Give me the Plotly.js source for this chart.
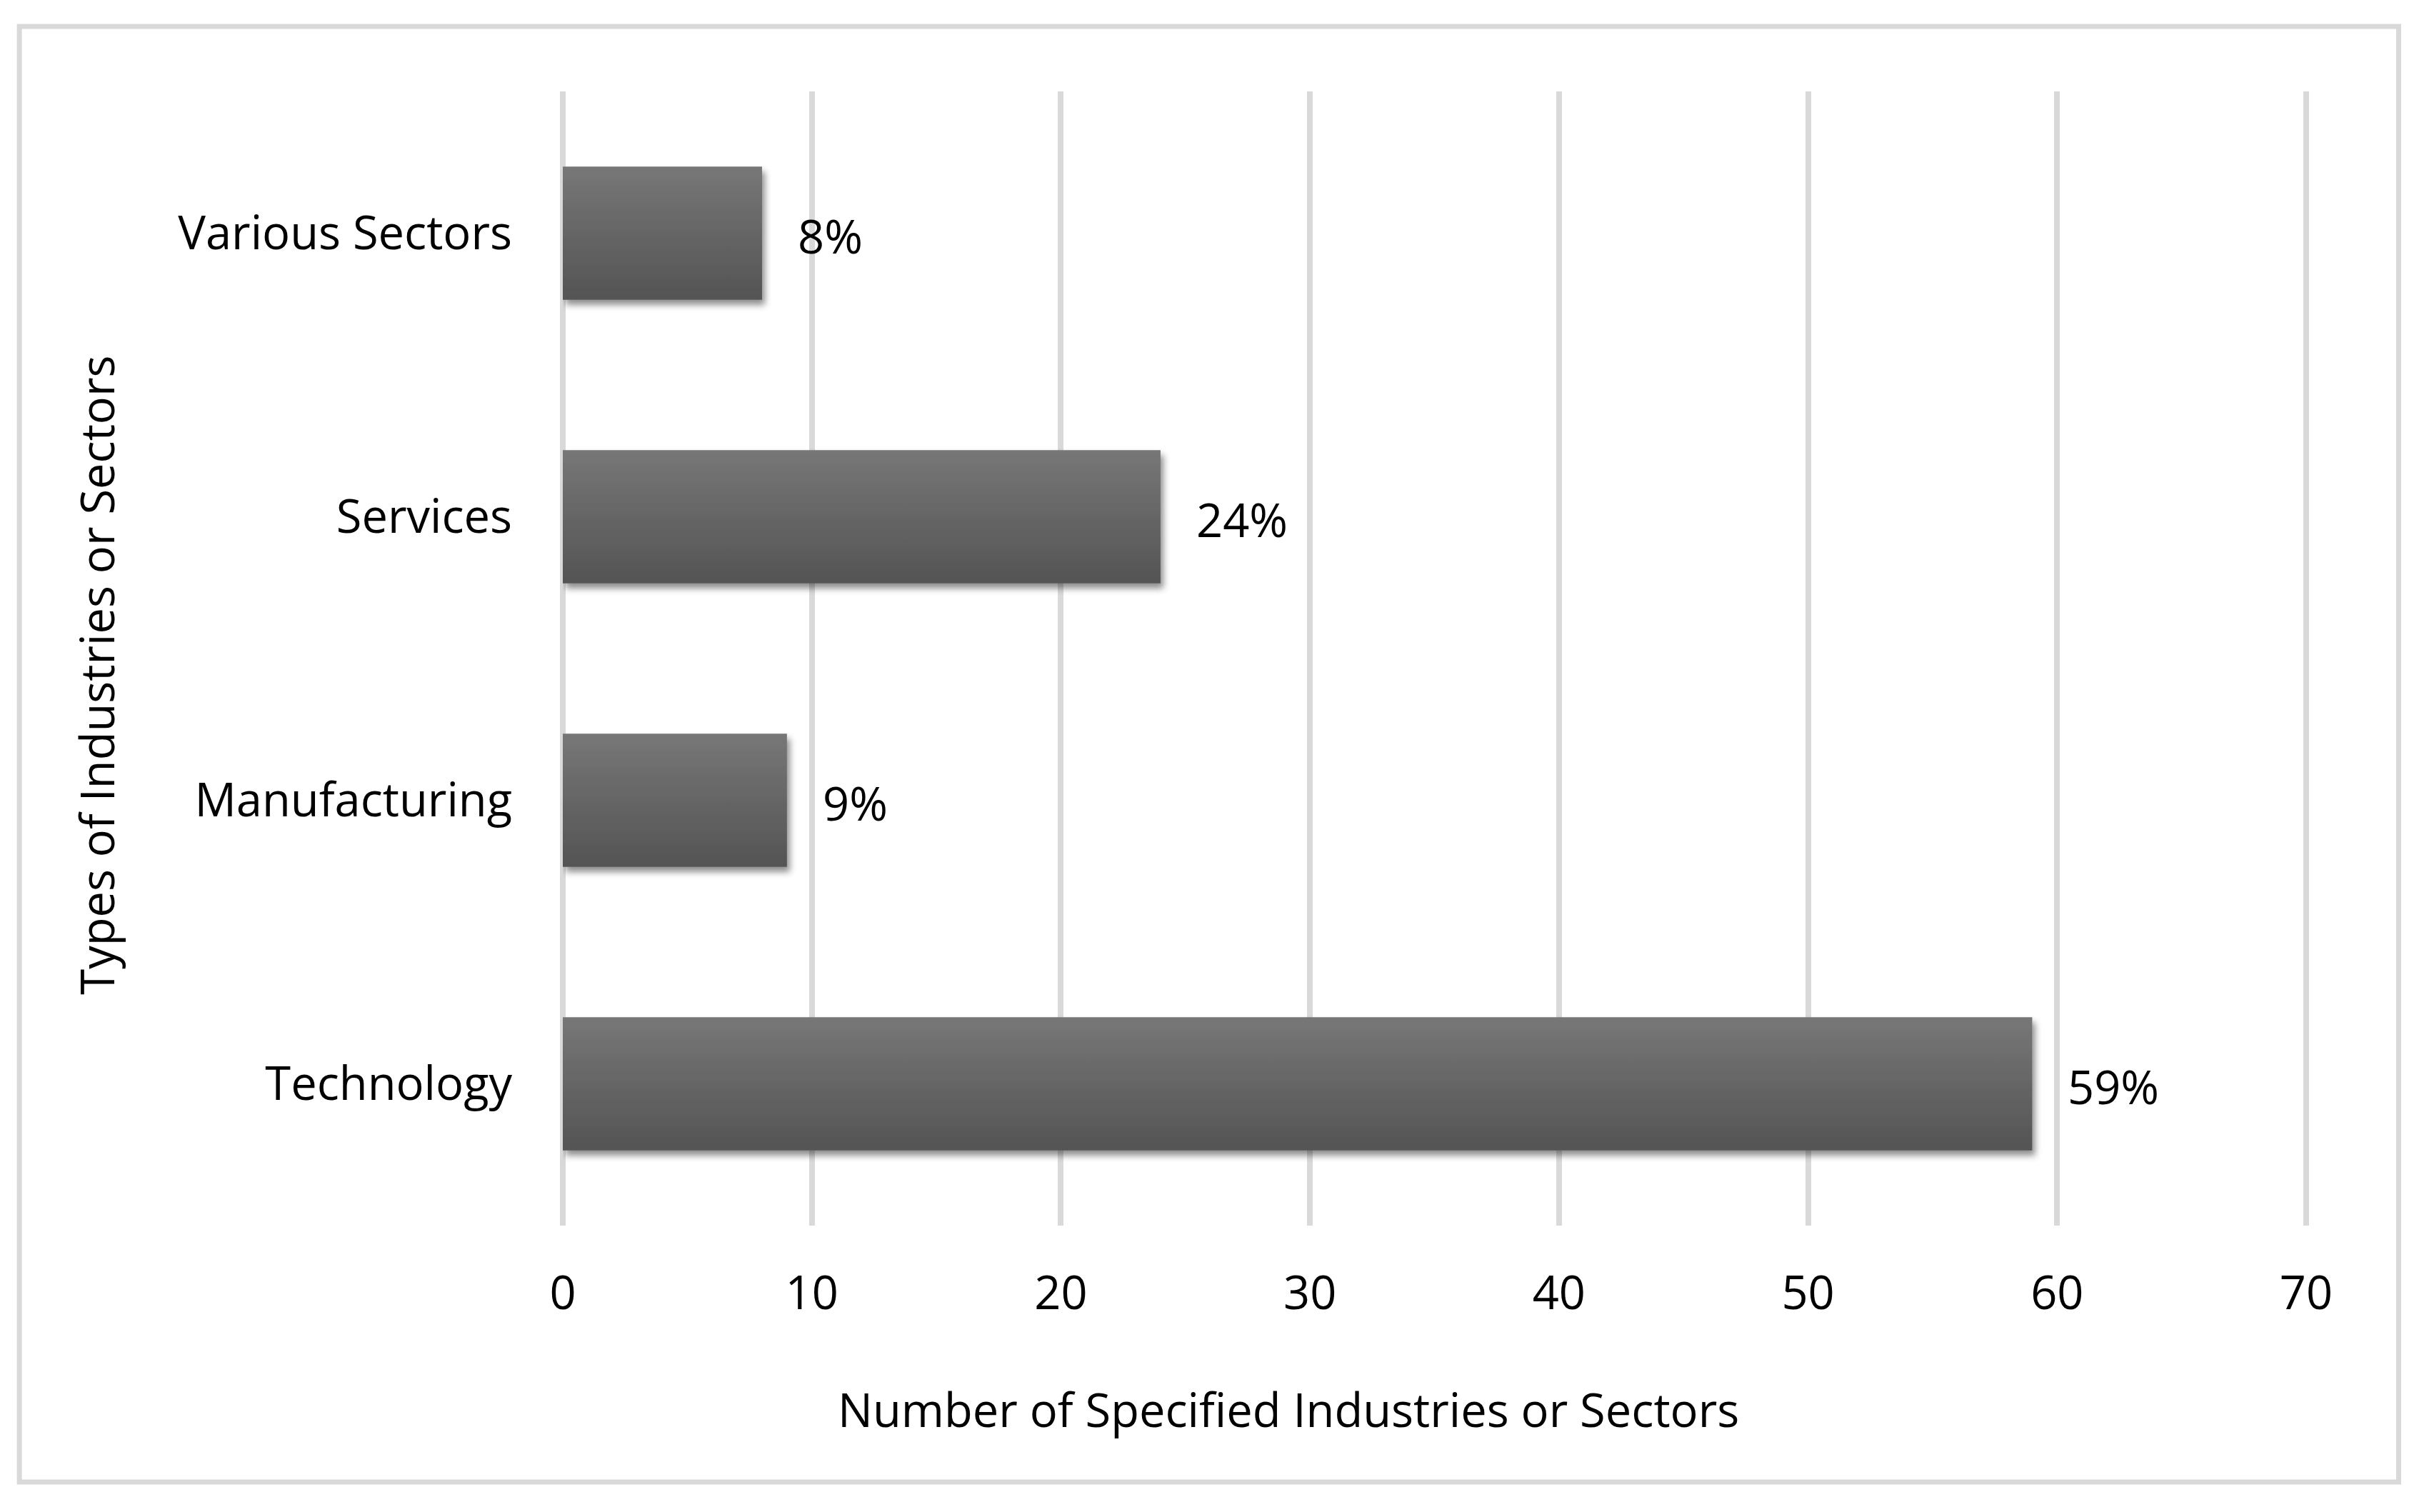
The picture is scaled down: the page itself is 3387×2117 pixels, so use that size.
<!DOCTYPE html>
<html>
<head>
<meta charset="utf-8">
<script src="https://cdn.plot.ly/plotly-3.0.1.min.js"></script>
<style>
html,body{margin:0;padding:0;background:#fff;}
#chart{width:3387px;height:2117px;}
</style>
</head>
<body>
<div id="chart"></div>
<script>
// ---- data ----
var categories = ["Technology", "Manufacturing", "Services", "Various Sectors"];
var counts = [59, 9, 24, 8];
var percentLabels = ["59%", "9%", "24%", "8%"];
var xTickValues = [0, 10, 20, 30, 40, 50, 60, 70];
var xAxisTitle = "Number of Specified Industries or Sectors";
var yAxisTitle = "Types of Industries or Sectors";

// ---- layout geometry (pixels) ----
var W = 3387, H = 2117;
var XMAX = 70, XPAD = 0.2;                 // small pad so the 70 gridline is drawn
var L = 787.5, R70 = 3229;                 // pixel of 0 and of 70
var R = L + (R70 - L) * (XMAX + XPAD) / XMAX;
var T = 128, B = 1716;
var pw = R - L, ph = B - T;
function px2x(p){ return (p - L) / pw; }
function py2y(p){ return (B - p) / ph; }

var FONT = "Open Sans, sans-serif";
var FS = 65;

var trace = {
  type: "bar",
  orientation: "h",
  x: counts,
  y: categories,
  width: 0.47,
  marker: {color: "#666666", line: {width: 0}},
  hoverinfo: "none"
};

var annotations = categories.map(function(c, i){
  return {
    x: counts[i], y: c, xref: "x", yref: "y",
    text: percentLabels[i], showarrow: false,
    xanchor: "left", yanchor: "middle", xshift: 48, yshift: -3,
    font: {family: FONT, size: FS, color: "#000000"}
  };
});
annotations.push({
  x: px2x(1804), y: py2y(1973), xref: "paper", yref: "paper",
  text: xAxisTitle, showarrow: false, xanchor: "center", yanchor: "middle",
  font: {family: FONT, size: FS, color: "#000000"}
});
annotations.push({
  x: px2x(134), y: py2y(945), xref: "paper", yref: "paper",
  text: yAxisTitle, showarrow: false, xanchor: "center", yanchor: "middle",
  textangle: -90,
  font: {family: FONT, size: FS, color: "#000000"}
});

var layout = {
  width: W, height: H,
  margin: {l: L, r: W - R, t: T, b: H - B, pad: 0},
  paper_bgcolor: "#ffffff",
  plot_bgcolor: "#ffffff",
  showlegend: false,
  font: {family: FONT, size: FS, color: "#000000"},
  xaxis: {
    range: [0, XMAX + XPAD],
    tickvals: xTickValues,
    ticktext: xTickValues.map(String),
    showgrid: true, gridcolor: "#d9d9d9", gridwidth: 8,
    zeroline: true, zerolinecolor: "#d9d9d9", zerolinewidth: 8,
    showline: false, ticks: "",
    ticklabelstandoff: 51,
    tickfont: {family: FONT, size: FS, color: "#000000"},
    fixedrange: true
  },
  yaxis: {
    type: "category",
    categoryorder: "array", categoryarray: categories,
    range: [-0.5, 3.5],
    showgrid: false, zeroline: false, showline: false, ticks: "",
    ticklabelstandoff: 70,
    tickfont: {family: FONT, size: FS, color: "#000000"},
    fixedrange: true
  },
  bargap: 0.53,
  annotations: annotations,
  shapes: [{
    type: "rect", xref: "paper", yref: "paper",
    x0: px2x(26.5), x1: px2x(3358.5), y0: py2y(2075), y1: py2y(37),
    line: {color: "#d9d9d9", width: 7}, fillcolor: "rgba(0,0,0,0)",
    layer: "below"
  }]
};

function styleBars(){
  var svg = document.querySelector("#chart .main-svg");
  if(!svg) return;
  var ns = "http://www.w3.org/2000/svg";
  var defs = svg.querySelector("defs") || svg.insertBefore(document.createElementNS(ns, "defs"), svg.firstChild);
  if(!document.getElementById("barGrad")){
    var g = document.createElementNS(ns, "linearGradient");
    g.setAttribute("id", "barGrad");
    g.setAttribute("x1", "0"); g.setAttribute("y1", "0");
    g.setAttribute("x2", "0"); g.setAttribute("y2", "1");
    var s1 = document.createElementNS(ns, "stop");
    s1.setAttribute("offset", "0"); s1.setAttribute("stop-color", "#777777");
    var s2 = document.createElementNS(ns, "stop");
    s2.setAttribute("offset", "1"); s2.setAttribute("stop-color", "#545454");
    g.appendChild(s1); g.appendChild(s2);
    defs.appendChild(g);
    var f = document.createElementNS(ns, "filter");
    f.setAttribute("id", "barShadow");
    f.setAttribute("x", "-10%"); f.setAttribute("y", "-30%");
    f.setAttribute("width", "130%"); f.setAttribute("height", "160%");
    var ds = document.createElementNS(ns, "feDropShadow");
    ds.setAttribute("dx", "4"); ds.setAttribute("dy", "7");
    ds.setAttribute("stdDeviation", "5");
    ds.setAttribute("flood-color", "#000000");
    ds.setAttribute("flood-opacity", "0.45");
    f.appendChild(ds);
    defs.appendChild(f);
  }
  document.querySelectorAll("#chart .bars .point path").forEach(function(p){
    p.style.fill = "url(#barGrad)";
    p.setAttribute("filter", "url(#barShadow)");
  });
}

Plotly.newPlot("chart", [trace], layout, {staticPlot: true, displayModeBar: false}).then(styleBars);
</script>
</body>
</html>
